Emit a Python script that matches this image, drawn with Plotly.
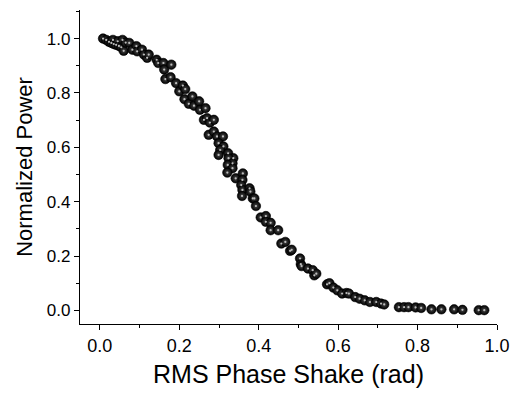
import plotly.graph_objects as go

rms_shake = [0.008, 0.016, 0.023, 0.029, 0.033, 0.035, 0.041, 0.045, 0.048, 0.054, 0.057, 0.060, 0.065,
             0.074, 0.082, 0.092, 0.094, 0.106, 0.111, 0.119, 0.123, 0.143, 0.147, 0.160, 0.162, 0.180,
             0.165, 0.178, 0.192, 0.200, 0.209, 0.215, 0.213, 0.224, 0.233, 0.237, 0.250, 0.252, 0.266,
             0.262, 0.270, 0.277, 0.287, 0.274, 0.287, 0.295, 0.310, 0.299, 0.311, 0.303, 0.299, 0.323,
             0.336, 0.324, 0.334, 0.322, 0.334, 0.321, 0.342, 0.360, 0.359, 0.356, 0.359, 0.358, 0.377,
             0.379, 0.385, 0.389, 0.393, 0.405, 0.418, 0.418, 0.430, 0.430, 0.449, 0.457, 0.467, 0.479,
             0.483, 0.504, 0.506, 0.508, 0.524, 0.536, 0.540, 0.545, 0.572, 0.578, 0.588, 0.598, 0.610,
             0.621, 0.627, 0.643, 0.654, 0.667, 0.680, 0.696, 0.708, 0.716, 0.753, 0.766, 0.777, 0.795,
             0.809, 0.835, 0.860, 0.892, 0.913, 0.954, 0.968]
norm_power = [1.000, 0.995, 0.988, 0.984, 0.995, 0.980, 0.977, 0.990, 0.973, 0.968, 0.995, 0.955, 0.985,
              0.984, 0.959, 0.972, 0.953, 0.959, 0.941, 0.929, 0.941, 0.922, 0.910, 0.910, 0.886, 0.904,
              0.851, 0.858, 0.836, 0.806, 0.827, 0.814, 0.777, 0.760, 0.787, 0.753, 0.769, 0.738, 0.744,
              0.701, 0.707, 0.691, 0.701, 0.646, 0.658, 0.640, 0.640, 0.615, 0.603, 0.590, 0.572, 0.578,
              0.560, 0.560, 0.541, 0.535, 0.523, 0.507, 0.486, 0.504, 0.480, 0.461, 0.443, 0.421, 0.449,
              0.437, 0.412, 0.412, 0.384, 0.342, 0.347, 0.326, 0.322, 0.295, 0.295, 0.246, 0.252, 0.219,
              0.223, 0.191, 0.170, 0.163, 0.154, 0.148, 0.129, 0.135, 0.096, 0.100, 0.084, 0.074, 0.062,
              0.064, 0.062, 0.049, 0.043, 0.037, 0.031, 0.031, 0.025, 0.022, 0.012, 0.012, 0.012, 0.011,
              0.009, 0.004, 0.004, 0.004, 0.002, 0.001, 0.001]

x_title = "RMS Phase Shake (rad)"
y_title = "Normalized Power"
x_ticks = [0.0, 0.2, 0.4, 0.6, 0.8, 1.0]
y_ticks = [0.0, 0.2, 0.4, 0.6, 0.8, 1.0]

FONT = "Liberation Sans, Arial, sans-serif"

fig = go.Figure()
# sphere body
fig.add_trace(go.Scatter(
    x=rms_shake, y=norm_power, mode="markers",
    marker=dict(size=9.5, color="#000000",
                gradient=dict(type="radial", color="#4a4a4a"),
                line=dict(color="#000000", width=0.6)),
    showlegend=False, hoverinfo="skip",
))
# specular highlight
fig.add_trace(go.Scatter(
    x=rms_shake, y=norm_power, mode="markers",
    marker=dict(size=2.2, color="#bdbdbd", line=dict(width=0)),
    showlegend=False,
))

axis_common = dict(
    showgrid=False, zeroline=False, showline=True, linecolor="black", linewidth=1.3,
    ticks="outside", ticklen=5, tickwidth=1.2, tickcolor="black", mirror=False,
    tickformat=".1f",
    minor=dict(ticks="outside", ticklen=3, tickwidth=1, tickcolor="black", dtick=0.1),
)

fig.update_xaxes(range=[-0.05, 1.0], tickvals=x_ticks,
                 tickfont=dict(family=FONT, size=18, color="black"),
                 title=dict(text=x_title, standoff=10, font=dict(family=FONT, size=25, color="black")),
                 **axis_common)
fig.update_yaxes(range=[-0.05, 1.105], tickvals=y_ticks,
                 tickfont=dict(family=FONT, size=17, color="black"),
                 title=dict(text=y_title, standoff=8, font=dict(family=FONT, size=22, color="black")),
                 **axis_common)

fig.update_layout(
    width=520, height=394,
    margin=dict(l=80, r=13, t=10, b=70),
    paper_bgcolor="white", plot_bgcolor="white",
)

fig.write_html("out.html")
